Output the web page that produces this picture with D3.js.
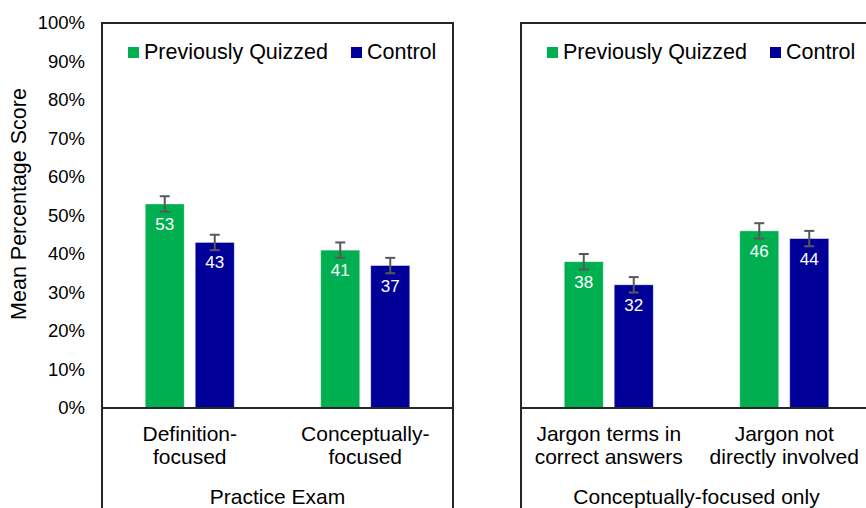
<!DOCTYPE html>
<html>
<head>
<meta charset="utf-8">
<script src="https://cdn.jsdelivr.net/npm/d3@7"></script>
<style>
  body { margin: 0; background: #fff; }
  svg { font-family: "Liberation Sans", Arial, sans-serif; }
</style>
</head>
<body>
<svg width="866" height="508"></svg>
<script>
// chart data
var panelTitles = ["Practice Exam", "Conceptually-focused only"];
var categories = [
    [["Definition-", "focused"], ["Conceptually-", "focused"]],
    [["Jargon terms in", "correct answers"], ["Jargon not", "directly involved"]]
];
var seriesNames = ["Previously Quizzed", "Control"];
var quizzedValues = [[53, 41], [38, 46]];
var controlValues = [[43, 37], [32, 44]];
var quizzedErrors = [[2, 2], [2, 2]];
var controlErrors = [[2, 2], [2, 2]];
var yTicks = [0, 10, 20, 30, 40, 50, 60, 70, 80, 90, 100];

var colors = ["#00B050", "#000099"];

var svg = d3.select("svg");
var plotTop = 23, plotBottom = 408;
var panelWidth = 351;
var panelLeft = [102, 521];

var y = d3.scaleLinear().domain([0, 100]).range([plotBottom, plotTop]);

// y axis labels (no line, Excel style)
var yAxis = svg.append("g")
    .attr("class", "axis y")
    .attr("transform", "translate(" + panelLeft[0] + ",0)")
    .call(d3.axisLeft(y).tickValues(yTicks).tickSize(0).tickPadding(17)
        .tickFormat(function(d) { return d + "%"; }));
yAxis.select(".domain").remove();
yAxis.selectAll("text").attr("font-size", "18.5px").attr("fill", "#000")
    .attr("font-family", "Liberation Sans, Arial, sans-serif");

svg.append("text")
    .attr("transform", "translate(26,204) rotate(-90)")
    .attr("text-anchor", "middle")
    .attr("font-size", "21.5px")
    .text("Mean Percentage Score");

panelTitles.forEach(function(title, p) {
    var left = panelLeft[p];
    var g = svg.append("g").attr("transform", "translate(" + left + ",0)");

    var x0 = d3.scaleBand().domain([0, 1]).range([0, panelWidth]).padding(0);
    var x1 = d3.scaleBand().domain([0, 1]).range([-44.5, 44.5]).paddingInner(0.22);

    var rows = [0, 1].map(function(c) {
        return [
            {c: c, s: 0, v: quizzedValues[p][c], e: quizzedErrors[p][c]},
            {c: c, s: 1, v: controlValues[p][c], e: controlErrors[p][c]}
        ];
    });
    var data = [].concat(rows[0], rows[1]);

    function cx(d) { return x0(d.c) + x0.bandwidth() / 2 + x1(d.s); }

    g.selectAll(".bar")
        .data(data)
        .enter().append("rect")
        .attr("class", "bar")
        .attr("x", cx)
        .attr("y", function(d) { return y(d.v); })
        .attr("width", x1.bandwidth())
        .attr("height", function(d) { return plotBottom - y(d.v); })
        .attr("fill", function(d) { return colors[d.s]; })
        .attr("stroke", "#ffffff")
        .attr("stroke-opacity", 0.45)
        .attr("stroke-width", 0.8);

    // error bars
    var eb = g.selectAll(".err")
        .data(data)
        .enter().append("g")
        .attr("class", "err")
        .attr("stroke", "#595959")
        .attr("stroke-width", 2);
    eb.append("line")
        .attr("x1", function(d) { return cx(d) + x1.bandwidth() / 2; })
        .attr("x2", function(d) { return cx(d) + x1.bandwidth() / 2; })
        .attr("y1", function(d) { return y(d.v + d.e); })
        .attr("y2", function(d) { return y(d.v - d.e); });
    [1, -1].forEach(function(sign) {
        eb.append("line")
            .attr("x1", function(d) { return cx(d) + x1.bandwidth() / 2 - 5; })
            .attr("x2", function(d) { return cx(d) + x1.bandwidth() / 2 + 5; })
            .attr("y1", function(d) { return y(d.v + sign * d.e); })
            .attr("y2", function(d) { return y(d.v + sign * d.e); });
    });

    // value labels
    g.selectAll(".val")
        .data(data)
        .enter().append("text")
        .attr("class", "val")
        .attr("x", function(d) { return cx(d) + x1.bandwidth() / 2; })
        .attr("y", function(d) { return y(d.v) + 26; })
        .attr("text-anchor", "middle")
        .attr("font-size", "17px")
        .attr("fill", "#fff")
        .text(function(d) { return d.v; });

    // panel frame
    g.append("path")
        .attr("d", "M0,508V" + plotTop + "H" + panelWidth + "V508")
        .attr("fill", "none")
        .attr("stroke", "#262626")
        .attr("stroke-width", 2);
    g.append("line")
        .attr("x1", 0).attr("x2", panelWidth)
        .attr("y1", plotBottom).attr("y2", plotBottom)
        .attr("stroke", "#262626")
        .attr("stroke-width", 2);

    // category labels
    categories[p].forEach(function(lines, c) {
        var t = g.append("text")
            .attr("text-anchor", "middle")
            .attr("font-size", "21px");
        lines.forEach(function(line, i) {
            t.append("tspan")
                .attr("x", x0(c) + x0.bandwidth() / 2)
                .attr("y", 441 + i * 23)
                .text(line);
        });
    });

    g.append("text")
        .attr("x", panelWidth / 2)
        .attr("y", 504)
        .attr("text-anchor", "middle")
        .attr("font-size", "21px")
        .text(title);

    // legend
    var legX = [26, 249];
    seriesNames.forEach(function(name, s) {
        g.append("rect")
            .attr("x", legX[s]).attr("y", 47)
            .attr("width", 11).attr("height", 11)
            .attr("fill", colors[s]);
        g.append("text")
            .attr("x", legX[s] + 16).attr("y", 59)
            .attr("font-size", "21.5px")
            .text(name);
    });
});
</script>
</body>
</html>
